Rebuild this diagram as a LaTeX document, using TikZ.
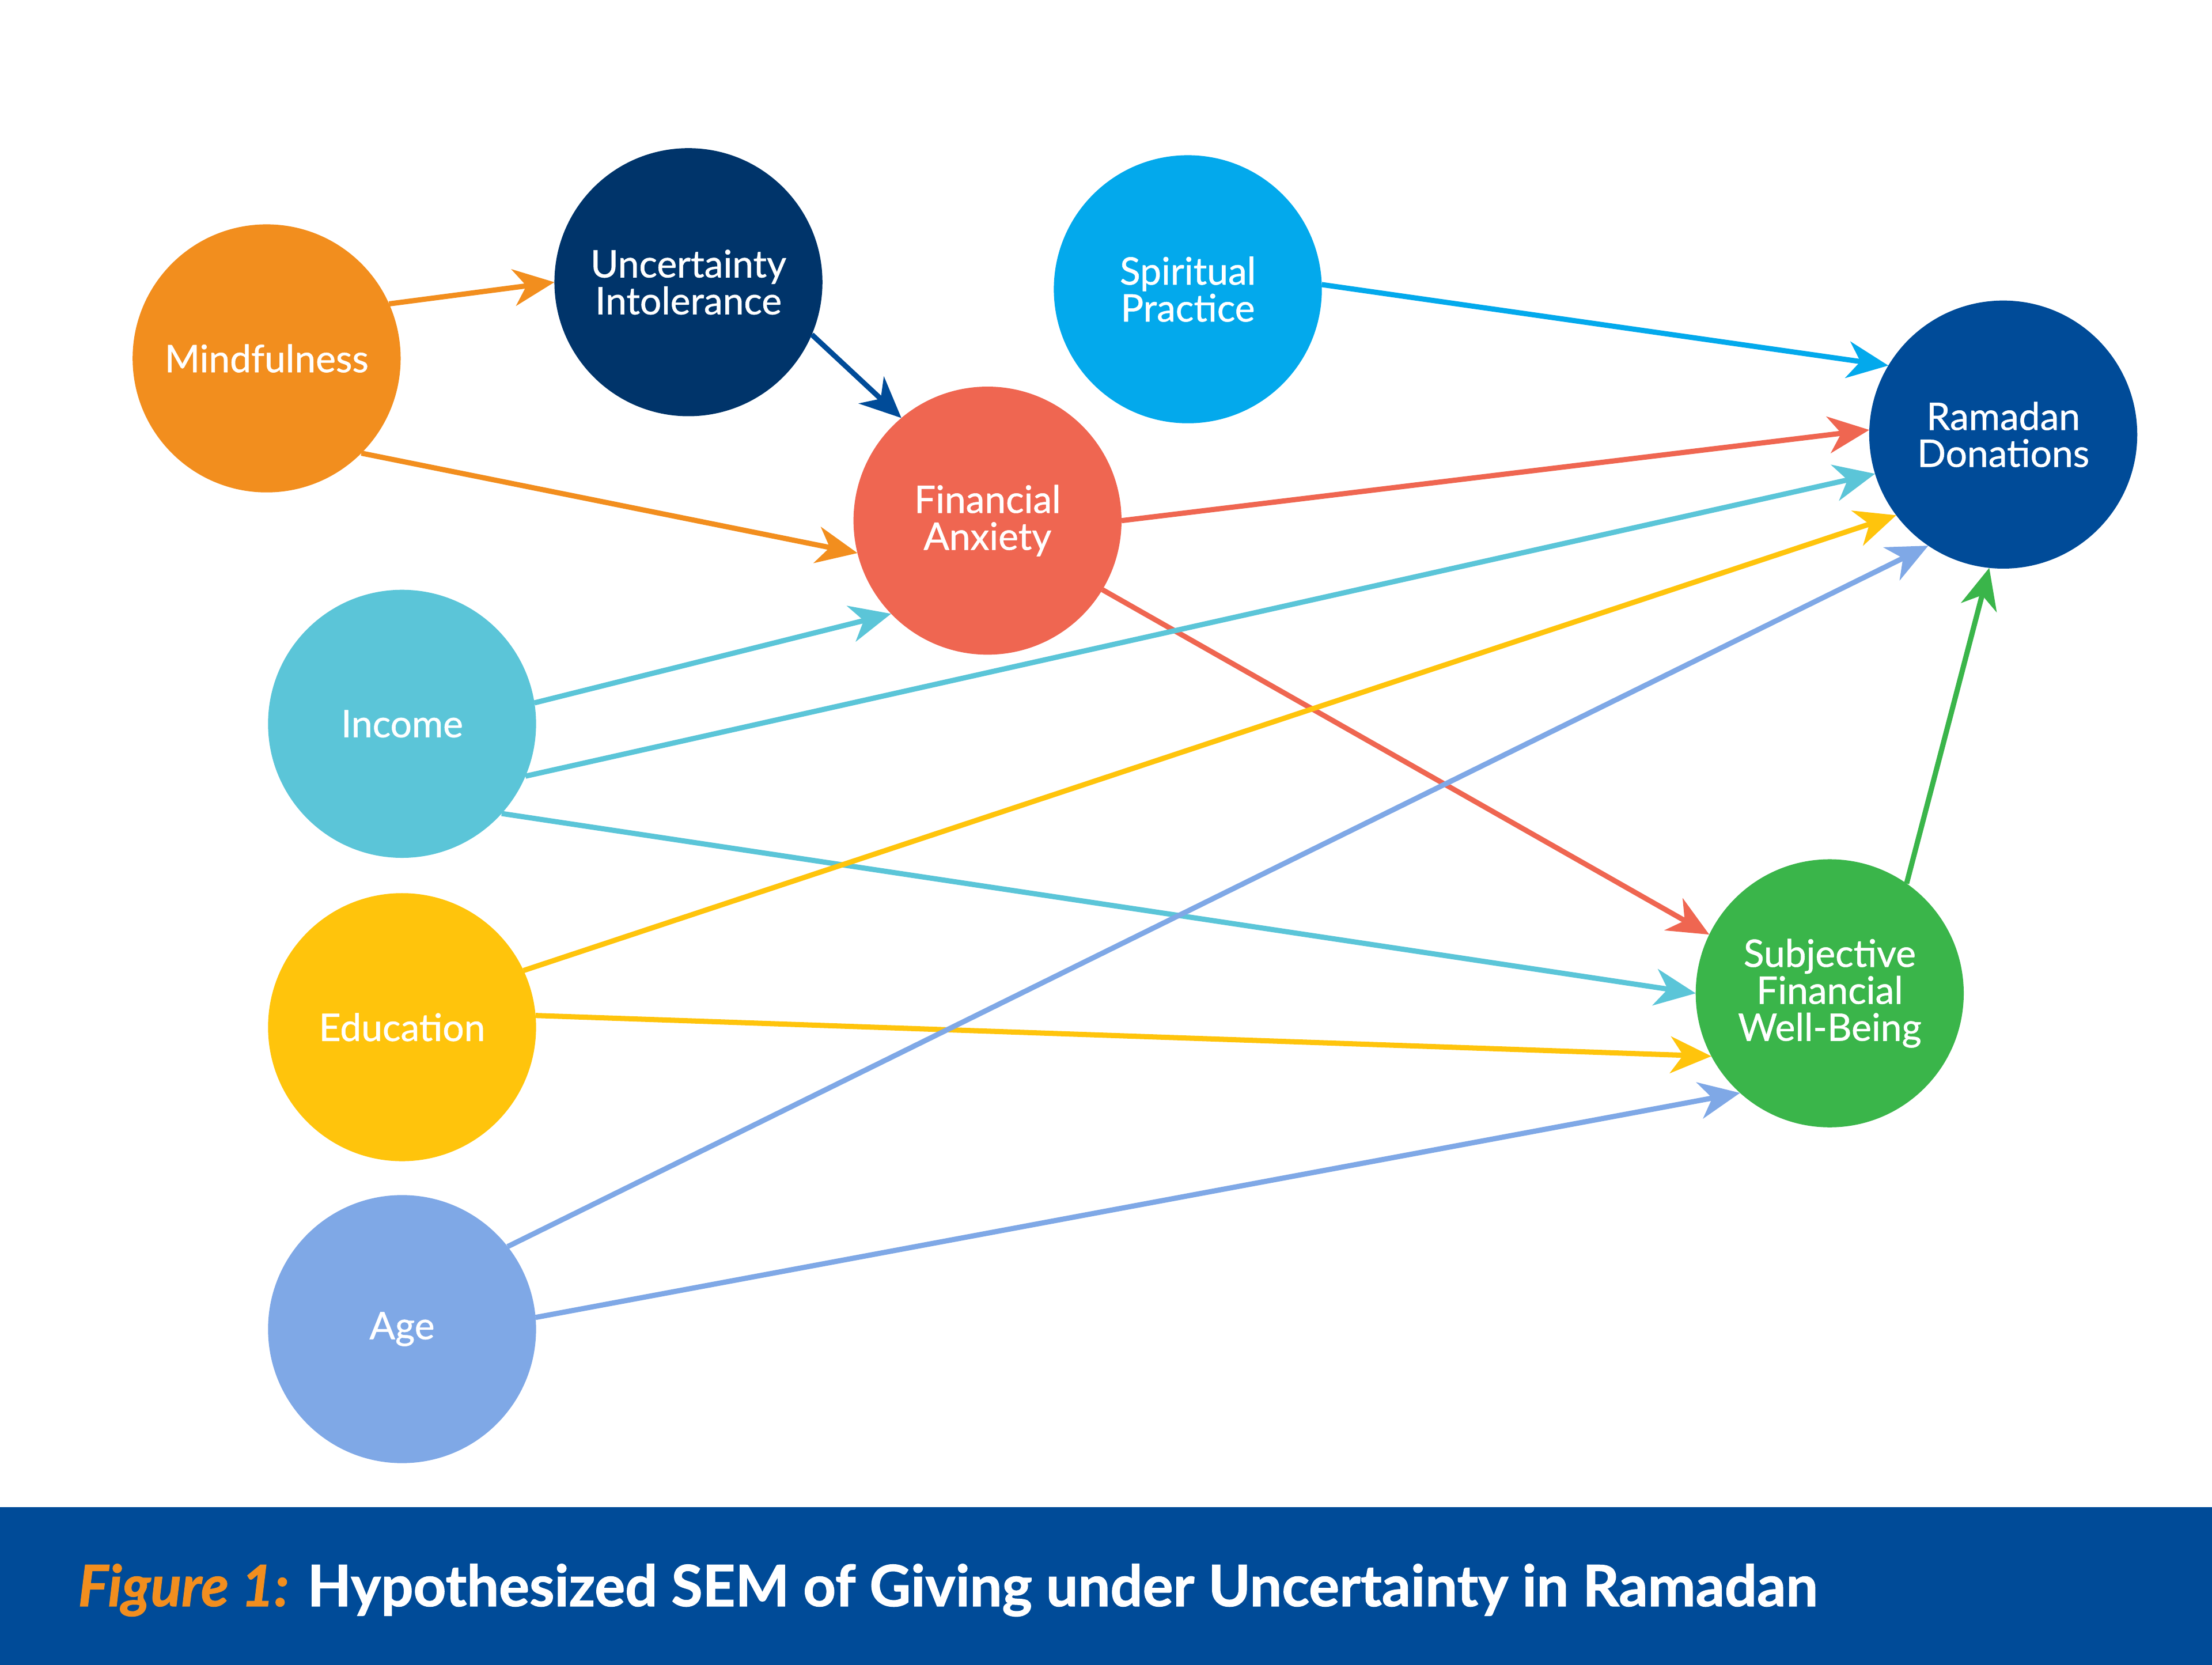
\documentclass[tikz,border=0pt]{standalone}
\usepackage{fontspec}
\setmainfont{Lato}
\newfontfamily\varfont{Lato}[FakeBold=0.8]
\newfontfamily\capfont{Lato}[FakeBold=1.2]
\usepackage{xcolor}
\usetikzlibrary{arrows.meta,positioning}

\definecolor{cMind}{HTML}{F28E1E}
\definecolor{cUnc}{HTML}{00346A}
\definecolor{cSpir}{HTML}{03A9EC}
\definecolor{cAnx}{HTML}{EF6651}
\definecolor{cDon}{HTML}{004B98}
\definecolor{cInc}{HTML}{5BC5D8}
\definecolor{cEdu}{HTML}{FFC40C}
\definecolor{cAge}{HTML}{7FA8E6}
\definecolor{cWell}{HTML}{3AB54A}

\tikzset{
  var/.style={circle, minimum size=3.8cm, inner sep=0pt, outer sep=0pt,
    text=white, align=center, font=\varfont\fontsize{15.3}{14.9}\selectfont},
  lnk/.style={-{Stealth[length=5.8mm,width=5.2mm,inset=1.8mm]}, line width=2.1pt}
}

\begin{document}
\begin{tikzpicture}
  \useasboundingbox (0,0) rectangle (31.36,-23.6);

  \node[var, fill=cMind] (mind) at (3.78,-5.08) {Mindfulness};
  \node[var, fill=cUnc] (unc) at (9.76,-4.0) {Uncertainty\\Intolerance};
  \node[var, fill=cSpir] (spir) at (16.84,-4.1) {Spiritual\\Practice};
  \node[var, fill=cAnx] (anx) at (14.0,-7.38) {Financial\\Anxiety};
  \node[var, fill=cDon] (don) at (28.4,-6.16) {Ramadan\\Donations};
  \node[var, fill=cInc] (inc) at (5.7,-10.26) {Income};
  \node[var, fill=cEdu] (edu) at (5.7,-14.56) {Education};
  \node[var, fill=cAge] (age) at (5.7,-18.84) {Age};
  \node[var, fill=cWell] (well) at (25.94,-14.08) {Subjective\\Financial\\Well-Being};

  \draw[lnk, cMind] (mind.24) -- (unc.180);
  \draw[lnk, cMind] (mind.-45) -- (anx.194);
  \draw[lnk, cDon] (unc.-23) -- (anx.130);
  \draw[lnk, cSpir] (spir.2) -- (don.149);
  \draw[lnk, cAnx] (anx.0) -- (don.178);
  \draw[lnk, cAnx] (anx.-31) -- (well.154);
  \draw[lnk, cInc] (inc.9) -- (anx.224);
  \draw[lnk, cInc] (inc.-23) -- (don.197);
  \draw[lnk, cInc] (inc.-42) -- (well.180);
  \draw[lnk, cEdu] (edu.25) -- (don.217);
  \draw[lnk, cEdu] (edu.5) -- (well.208);
  \draw[lnk, cAge] (age.38) -- (don.236);
  \draw[lnk, cAge] (age.5) -- (well.228);
  \draw[lnk, cWell] (well.55) -- (don.264);

  % caption bar
  \fill[cDon] (0,-21.36) rectangle (31.36,-23.6);
  \node[anchor=west, inner sep=0pt, font=\capfont\fontsize{23}{26}\selectfont\bfseries] (cap) at (1.1,-22.54)
    {\textcolor{cMind}{\itshape Figure 1:} \textcolor{white}{Hypothesized SEM of Giving under Uncertainty in Ramadan}};
\end{tikzpicture}
\end{document}
